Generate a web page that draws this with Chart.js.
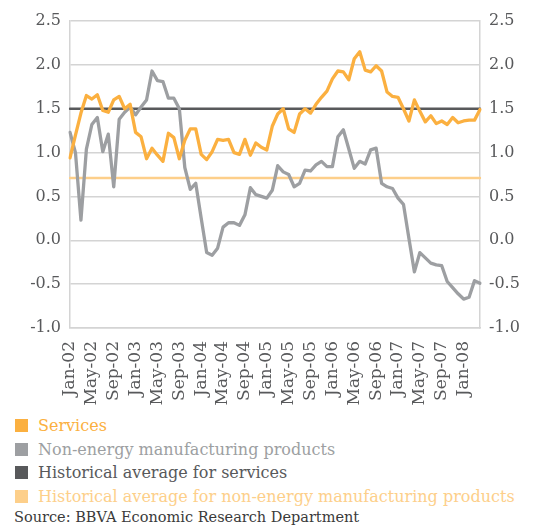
<!DOCTYPE html>
<html>
<head>
<meta charset="utf-8">
<script src="https://cdn.jsdelivr.net/npm/chart.js@4"></script>
<style>
  body { margin: 0; background: #fff; }
  #wrap { position: relative; width: 533px; height: 526px; overflow: hidden; }
  #legend { position: absolute; left: 15px; top: 414px; font-family: "DejaVu Serif", serif; font-size: 16px; }
  .item { height: 23.5px; line-height: 23.5px; white-space: nowrap; }
  .box { display: inline-block; width: 13px; height: 13px; margin-right: 10px; vertical-align: -1px; }
  #source { position: absolute; left: 14px; top: 509px; font-family: "DejaVu Serif", serif; font-size: 14.5px; color: #3a3a3a; white-space: nowrap; }
</style>
</head>
<body>
<div id="wrap">
  <canvas id="chart" width="533" height="410"></canvas>
  <div id="legend"></div>
  <div id="source">Source: BBVA Economic Research Department</div>
</div>
<script>
// monthly, Jan-02 .. Apr-08
const months = [
  'Jan-02','Feb-02','Mar-02','Apr-02','May-02','Jun-02','Jul-02','Aug-02','Sep-02','Oct-02','Nov-02','Dec-02',
  'Jan-03','Feb-03','Mar-03','Apr-03','May-03','Jun-03','Jul-03','Aug-03','Sep-03','Oct-03','Nov-03','Dec-03',
  'Jan-04','Feb-04','Mar-04','Apr-04','May-04','Jun-04','Jul-04','Aug-04','Sep-04','Oct-04','Nov-04','Dec-04',
  'Jan-05','Feb-05','Mar-05','Apr-05','May-05','Jun-05','Jul-05','Aug-05','Sep-05','Oct-05','Nov-05','Dec-05',
  'Jan-06','Feb-06','Mar-06','Apr-06','May-06','Jun-06','Jul-06','Aug-06','Sep-06','Oct-06','Nov-06','Dec-06',
  'Jan-07','Feb-07','Mar-07','Apr-07','May-07','Jun-07','Jul-07','Aug-07','Sep-07','Oct-07','Nov-07','Dec-07',
  'Jan-08','Feb-08','Mar-08','Apr-08'
];

const services = [
  0.94, 1.20, 1.45, 1.65, 1.61, 1.66, 1.48, 1.46, 1.60, 1.64,
  1.50, 1.55, 1.23, 1.18, 0.93, 1.05, 0.97, 0.90, 1.22, 1.17,
  0.93, 1.14, 1.27, 1.27, 0.98, 0.92, 1.01, 1.15, 1.14, 1.15,
  1.00, 0.98, 1.15, 0.97, 1.11, 1.06, 1.03, 1.30, 1.44, 1.50,
  1.27, 1.23, 1.44, 1.50, 1.45, 1.55, 1.63, 1.70, 1.84, 1.93,
  1.92, 1.83, 2.07, 2.15, 1.94, 1.92, 1.99, 1.93, 1.69, 1.64,
  1.63, 1.50, 1.36, 1.60, 1.47, 1.35, 1.42, 1.33, 1.36, 1.32,
  1.40, 1.34, 1.36, 1.37, 1.37, 1.49
];

const nonEnergy = [
  1.23, 1.00, 0.23, 1.04, 1.32, 1.40, 1.01, 1.21, 0.61, 1.38,
  1.46, 1.52, 1.43, 1.52, 1.60, 1.93, 1.82, 1.81, 1.62, 1.62,
  1.50, 0.83, 0.58, 0.65, 0.25, -0.14, -0.17, -0.09, 0.15, 0.20,
  0.20, 0.17, 0.29, 0.60, 0.52, 0.50, 0.48, 0.57, 0.85, 0.78,
  0.75, 0.61, 0.65, 0.80, 0.79, 0.86, 0.90, 0.84, 0.84, 1.18,
  1.26, 1.04, 0.82, 0.90, 0.87, 1.03, 1.05, 0.65, 0.61, 0.59,
  0.48, 0.41, 0.02, -0.36, -0.14, -0.20, -0.26, -0.28, -0.29, -0.47,
  -0.54, -0.61, -0.67, -0.65, -0.46, -0.49
];

// historical averages (flat lines)
const servicesAvg = 1.5;
const nonEnergyAvg = 0.71;

const yTicks = [-1.0, -0.5, 0.0, 0.5, 1.0, 1.5, 2.0, 2.5];

const seriesNames = [
  'Services',
  'Non-energy manufacturing products',
  'Historical average for services',
  'Historical average for non-energy manufacturing products'
];
const seriesColors = ['#fbb040', '#9d9fa2', '#58595b', '#fdcf8a'];

const gridColor = '#d4d4d4';
const tickColor = '#58595b';

const ctx = document.getElementById('chart').getContext('2d');

const yAxis = (pos, width) => ({
  position: pos,
  min: yTicks[0],
  max: yTicks[yTicks.length - 1],
  afterBuildTicks: s => { s.ticks = yTicks.map(v => ({ value: v })); },
  afterFit: s => { s.width = width; },
  grid: { display: pos === 'left', color: gridColor, lineWidth: 1.5, drawTicks: false },
  border: { display: true, color: gridColor, width: 1.5 },
  ticks: {
    padding: 9,
    color: tickColor,
    font: { family: 'DejaVu Serif', size: 16 },
    callback: v => v.toFixed(1)
  }
});

new Chart(ctx, {
  type: 'line',
  data: {
    labels: months,
    datasets: [
      { label: seriesNames[0], data: services, borderColor: seriesColors[0], borderWidth: 3.3 },
      { label: seriesNames[1], data: nonEnergy, borderColor: seriesColors[1], borderWidth: 3.3 },
      { label: seriesNames[2], data: months.map(() => servicesAvg), borderColor: seriesColors[2], borderWidth: 2.5 },
      { label: seriesNames[3], data: months.map(() => nonEnergyAvg), borderColor: seriesColors[3], borderWidth: 2.5 }
    ]
  },
  options: {
    responsive: false,
    animation: false,
    layout: { padding: { top: 21, left: 0, right: 0, bottom: 0 } },
    elements: {
      point: { radius: 0 },
      line: { tension: 0, borderJoinStyle: 'round', borderCapStyle: 'round' }
    },
    plugins: { legend: { display: false }, tooltip: { enabled: false } },
    scales: {
      x: {
        grid: { display: false, drawTicks: false },
        border: { display: true, color: gridColor, width: 1.5 },
        afterFit: s => { s.height = 82; },
        ticks: {
          autoSkip: false,
          maxRotation: 90,
          minRotation: 90,
          padding: 13,
          color: tickColor,
          font: { family: 'DejaVu Serif', size: 17 },
          callback: (v, i) => (i % 4 === 0 ? months[i] : '')
        }
      },
      y: yAxis('left', 70),
      y2: yAxis('right', 53)
    }
  }
});

// legend below the chart, one entry per row
const legend = document.getElementById('legend');
seriesNames.forEach((name, i) => {
  const row = document.createElement('div');
  row.className = 'item';
  row.style.color = seriesColors[i];
  row.innerHTML = '<span class="box" style="background:' + seriesColors[i] + '"></span>' + name;
  legend.appendChild(row);
});
</script>
</body>
</html>
